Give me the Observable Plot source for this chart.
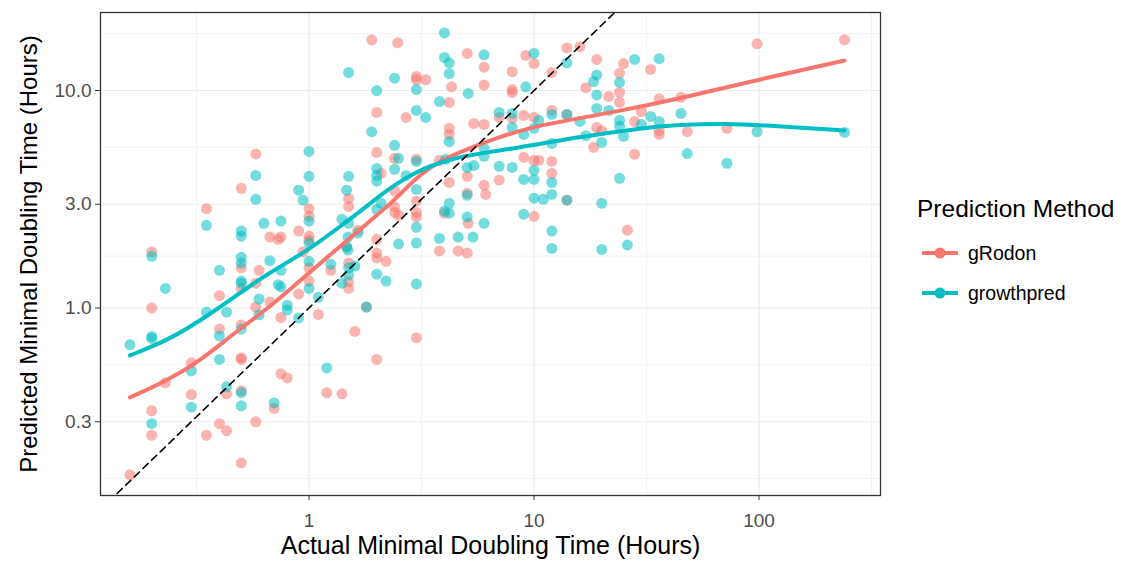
<!DOCTYPE html>
<html>
<head>
<meta charset="utf-8">
<script src="https://cdn.jsdelivr.net/npm/d3@7"></script>
<script src="https://cdn.jsdelivr.net/npm/@observablehq/plot@0.6"></script>
<style>
  body { margin: 0; background: #ffffff; }
  #chart { width: 1125px; height: 563px; }
</style>
</head>
<body>
<div id="chart"></div>
<script>
// Prediction methods and their colours
const methods = ["gRodon", "growthpred"];
const methodColors = ["#F8766D", "#00BFC4"];

// [actual doubling time, predicted doubling time] in hours, gRodon
const grodonPoints = [
  [0.16,0.171],[0.2,1.81],[0.2,1.0],[0.2,0.337],[0.2,0.26],[0.23,0.453],[0.3,0.56],[0.3,0.4],
  [0.35,2.86],[0.35,0.26],[0.4,1.14],[0.4,0.8],[0.4,0.294],[0.43,0.403],[0.43,0.273],
  [0.5,3.55],[0.5,1.53],[0.5,1.23],[0.5,0.836],[0.5,0.58],[0.5,0.59],[0.5,0.416],[0.5,0.194],
  [0.58,5.11],[0.58,1.3],[0.58,1.01],[0.58,0.3],[0.6,1.49],[0.67,2.12],[0.67,1.065],[0.7,0.346],
  [0.73,2.07],[0.75,2.12],[0.75,0.905],[0.75,0.498],[0.8,0.477],[0.9,2.26],[0.9,1.16],[0.94,1.81],
  [1,2.86],[1,2.64],[1,2.14],[1,2.05],[1,1.53],[1,1.33],[1.1,0.934],[1.2,0.408],[1.25,1.49],[1.4,0.403],
  [1.5,3.19],[1.5,2.93],[1.47,1.91],[1.5,1.61],[1.5,1.32],[1.5,1.23],[1.65,2.28],[1.6,0.78],[1.8,1.01],
  [1.9,17.1],[2,7.93],[2,5.19],[2.09,4.16],[2,2.07],[2,1.79],[2,1.7],[2,0.58],[2.2,1.64],
  [2.48,16.6],[2.4,4.88],[2.41,3.44],[2.4,2.92],[2.41,2.75],[2.5,2.67],[2.7,7.52],
  [3,11.6],[3,11.2],[3,4.83],[3,3.1],[3,2.75],[3,2.62],[3,0.73],[3.3,11.2],
  [4.3,10.4],[4.2,8.81],[4.2,6.7],[4.2,6.28],[3.8,4.77],[4.2,3.78],[4,2.73],[3.8,1.83],[4.6,1.83],
  [5.05,14.8],[5.4,7.05],[5.05,4.03],[5.05,3.37],[5.1,2.45],[5.05,1.79],
  [6,12.8],[6,10.6],[6,6.98],[6,3.67],[6.1,3.33],[7,7.52],[7,3.87],
  [8,12.2],[8,10.1],[8,9.8],[8,7.44],[9.2,14.5],[9,7.68],[9,4.93],
  [10,13.3],[10,7.52],[10,4.77],[10.5,4.77],[10,2.64],[12,12.1],[12,8.1],[12,4.72],[12,4.16],
  [14,15.7],[14,7.76],[14,3.13],[16,15.9],[17,10.3],[19,13.9],[19,6.76],[18.4,5.48],[20,6.52],
  [21.5,9.39],[24,12.0],[24,9.8],[24,8.81],[25,13.3],[26,2.28],[28,7.21],[28,5.09],[30,8.0],
  [33,12.5],[36,9.16],[36,6.55],[36,6.28],[45,9.3],[48,6.47],[72,6.7],[98,16.4],[240,17.1]
];

// [actual doubling time, predicted doubling time] in hours, growthpred
const growthpredPoints = [
  [0.16,0.677],[0.2,1.73],[0.2,0.74],[0.2,0.725],[0.2,0.294],[0.23,1.23],[0.3,0.514],[0.3,0.35],
  [0.35,2.4],[0.35,0.958],[0.4,1.49],[0.4,0.744],[0.4,0.58],[0.43,0.958],[0.43,0.434],
  [0.5,2.26],[0.5,2.14],[0.5,1.71],[0.5,1.61],[0.5,1.33],[0.5,1.3],[0.5,0.8],[0.5,0.408],[0.5,0.355],
  [0.58,4.07],[0.58,3.16],[0.6,1.1],[0.6,0.93],[0.63,2.45],[0.67,1.65],[0.7,0.366],[0.73,1.28],
  [0.75,2.51],[0.75,1.49],[0.75,1.25],[0.8,1.03],[0.8,0.98],[0.9,3.48],[0.9,0.9],[0.94,3.13],
  [1,5.25],[1,4.03],[1,2.51],[1,1.99],[1,1.64],[1,1.23],[1.1,1.12],[1.2,0.53],[1.25,1.59],
  [1.4,2.56],[1.4,1.3],[1.5,12.1],[1.5,4.03],[1.47,3.48],[1.5,2.45],[1.49,2.12],[1.47,1.91],
  [1.49,1.85],[1.5,1.53],[1.6,1.56],[1.5,1.42],[1.65,2.21],[1.8,1.01],[1.9,6.47],
  [2,10.0],[2,4.38],[2,4.07],[2,3.83],[2.09,3.03],[2,2.84],[2,1.43],[2.2,1.33],
  [2.4,11.4],[2.4,5.6],[2.5,4.88],[2.4,4.34],[2.5,1.97],[2.7,4.07],
  [3,10.1],[3,8.1],[3,4.72],[3,3.51],[3,2.35],[3,1.99],[3,1.29],[3.3,7.52],
  [4,18.4],[4,14.2],[4.2,13.4],[4.2,11.97],[3.8,8.9],[4.2,5.82],[4.05,4.83],[4.2,3.03],[4,2.79],
  [4.2,2.73],[3.8,2.09],[4.6,2.12],[5.1,9.7],[5.4,4.52],[5.05,4.43],[5.05,3.3],[5.05,2.62],[5.35,2.12],
  [6,14.6],[6,5.42],[6,4.98],[6,2.45],[7,7.93],[7,4.48],[8,7.84],[8,6.76],[8,4.43],
  [9.2,10.4],[9,6.28],[9,3.9],[9,2.7],[10,14.8],[10,6.7],[10.5,7.29],[10,4.3],[10,3.9],[10,3.2],
  [11,3.16],[12,7.76],[12,5.71],[12,3.78],[12,3.33],[12,2.26],[12,1.88],[14,13.4],[14,7.76],[14,3.13],
  [16,7.21],[17,6.2],[19,11.8],[18.4,11.0],[19,9.54],[19,8.27],[20,5.77],[20,3.03],[20,1.86],
  [21.5,8.1],[24,10.9],[24,7.29],[24,6.85],[24,3.95],[25,6.16],[26,1.95],[28,13.9],[30,6.98],
  [33,7.6],[36,14.0],[36,7.21],[45,7.84],[48,5.13],[72,4.63],[98,6.47],[240,6.42]
];

// Smoothed trend for each method: [actual, fitted predicted]
const grodonSmooth = [
  [0.16,0.388],[0.235,0.464],[0.33,0.574],[0.462,0.763],[0.674,1.016],[0.945,1.381],[1.339,1.877],
  [1.876,2.526],[2.424,3.15],[3.035,4.05],[3.962,4.85],[5.064,5.38],[7.1,6.15],[9.95,6.8],
  [14.09,7.3],[21.88,7.9],[44.8,9.19],[98.5,11.2],[240,13.74]
];
const growthpredSmooth = [
  [0.16,0.605],[0.235,0.709],[0.33,0.876],[0.462,1.117],[0.654,1.44],[0.945,1.781],[1.339,2.32],
  [1.876,3.024],[2.144,3.397],[3.035,4.3],[4.255,4.85],[5.966,5.18],[8.45,5.45],[11.84,5.8],
  [16.6,6.15],[21.88,6.4],[27.7,6.65],[44.8,6.98],[72.4,7.05],[98.5,6.95],[240,6.55]
];

// Axis breaks and labels
const xTicks = [1, 10, 100];
const yTicks = [0.3, 1, 3, 10];
const xDomain = [0.1184, 346.7];
const yDomain = [0.1374, 22.84];
const xTitle = "Actual Minimal Doubling Time (Hours)";
const yTitle = "Predicted Minimal Doubling Time (Hours)";
const legendTitle = "Prediction Method";

// Minor breaks halfway between major breaks on the log scale
function minorBreaks(ticks) {
  const b = ticks.map(Math.log10);
  const all = [b[0] - (b[1] - b[0]), ...b, b[b.length - 1] + (b[b.length - 1] - b[b.length - 2])];
  return d3.pairs(all).map(([a, c]) => 10 ** ((a + c) / 2));
}

const pointSets = [grodonPoints, growthpredPoints];
const smoothSets = [grodonSmooth, growthpredSmooth];
const pointRows = methods.flatMap((m, i) => pointSets[i].map(([actual, predicted]) => ({method: m, actual, predicted})));
const smoothRows = methods.flatMap((m, i) => smoothSets[i].map(([actual, predicted]) => ({method: m, actual, predicted})));
const identity = [xDomain[0] / 10, xDomain[1] * 10];

const font = "'Liberation Sans', Arial, Helvetica, sans-serif";
const gridColor = "#EBEBEB";

const chart = Plot.plot({
  width: 1125,
  height: 563,
  marginLeft: 100,
  marginRight: 245,
  marginTop: 12,
  marginBottom: 68,
  style: {fontFamily: font, background: "#ffffff", overflow: "visible"},
  x: {type: "log", domain: xDomain},
  y: {type: "log", domain: yDomain},
  color: {domain: methods, range: methodColors},
  marks: [
    Plot.gridX(minorBreaks(xTicks), {stroke: gridColor, strokeOpacity: 1, strokeWidth: 0.6}),
    Plot.gridY(minorBreaks(yTicks), {stroke: gridColor, strokeOpacity: 1, strokeWidth: 0.6}),
    Plot.gridX(xTicks, {stroke: gridColor, strokeOpacity: 1, strokeWidth: 1.2}),
    Plot.gridY(yTicks, {stroke: gridColor, strokeOpacity: 1, strokeWidth: 1.2}),
    Plot.dot(pointRows, {x: "actual", y: "predicted", fill: "method", r: 5.5, fillOpacity: 0.55, stroke: null}),
    Plot.line(smoothRows, {x: "actual", y: "predicted", z: "method", stroke: "method", strokeWidth: 4, curve: "basis"}),
    Plot.line(identity, {x: d => d, y: d => d, stroke: "black", strokeWidth: 1.6, strokeDasharray: "7,5", clip: true}),
    Plot.frame({stroke: "#333333", strokeWidth: 1.3}),
    Plot.axisX(xTicks, {tickFormat: d => d3.format("d")(d), tickSize: 5, tickPadding: 13, fontSize: 19, fill: "#4D4D4D", stroke: "#333333", label: null}),
    Plot.axisY(yTicks, {tickFormat: d3.format(".1f"), tickSize: 5, tickPadding: 4, fontSize: 19, fill: "#4D4D4D", stroke: "#333333", label: null}),
    Plot.text([xTitle], {text: d => d, frameAnchor: "bottom", lineAnchor: "middle", textAnchor: "middle", dy: 50, fontSize: 25, fill: "black"}),
    Plot.text([yTitle], {text: d => d, frameAnchor: "left", lineAnchor: "middle", textAnchor: "middle", dx: -71, rotate: -90, fontSize: 24, fill: "black"})
  ]
});

// Legend for the prediction methods, placed to the right of the panel
const legend = d3.select(chart).append("g")
  .attr("font-family", font)
  .attr("text-anchor", "start");
legend.append("text")
  .attr("x", 917).attr("y", 208).attr("dy", "0.35em")
  .attr("font-size", 24.5).attr("fill", "black")
  .text(legendTitle);
methods.forEach((m, i) => {
  const cy = 253 + i * 40;
  legend.append("line")
    .attr("x1", 922).attr("x2", 958).attr("y1", cy).attr("y2", cy)
    .attr("stroke", methodColors[i]).attr("stroke-width", 4);
  legend.append("circle")
    .attr("cx", 940).attr("cy", cy).attr("r", 5.5)
    .attr("fill", methodColors[i]);
  legend.append("text")
    .attr("x", 968).attr("y", cy).attr("dy", "0.35em")
    .attr("font-size", 19.5).attr("fill", "black")
    .text(m);
});

document.getElementById("chart").appendChild(chart);
</script>
</body>
</html>
